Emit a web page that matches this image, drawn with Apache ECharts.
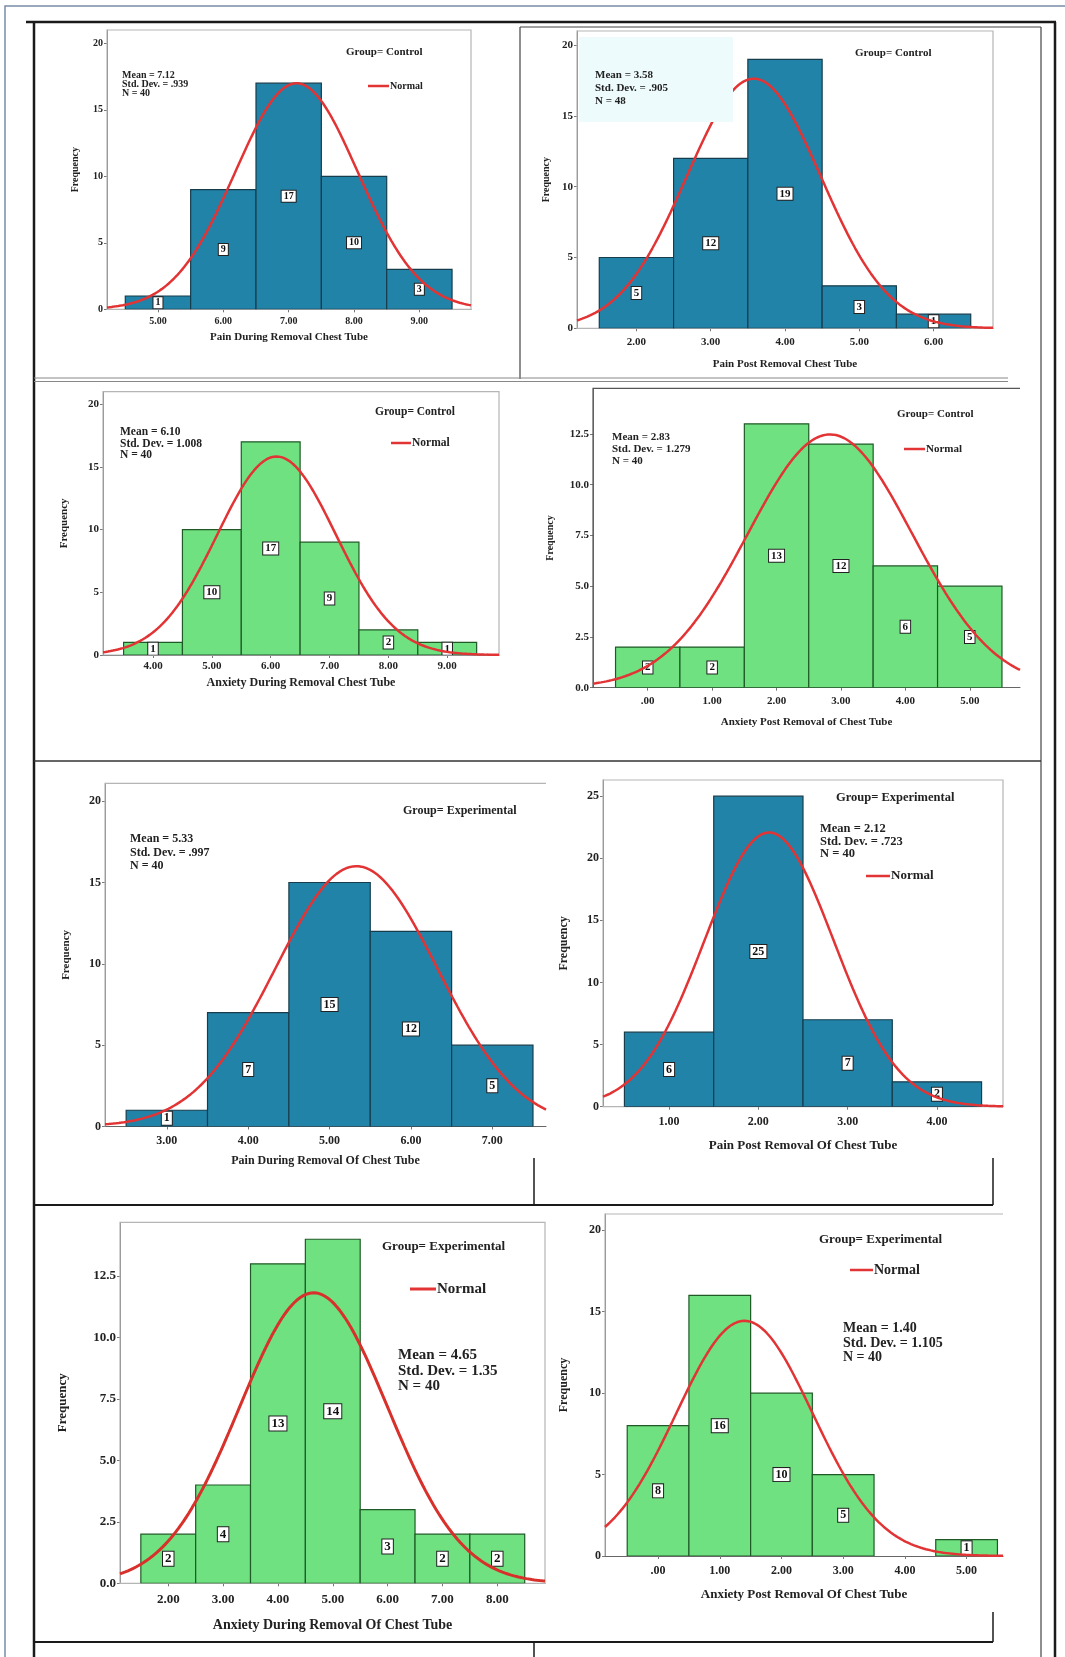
<!DOCTYPE html>
<html><head><meta charset="utf-8">
<script src="https://cdn.jsdelivr.net/npm/echarts@6/dist/echarts.min.js"></script>
<style>html,body{margin:0;padding:0;background:#fff}#c{width:1065px;height:1657px}</style>
</head><body><div id="c"></div>
<script>
// ---------------- DATA ----------------
const binCenters = [
  [5, 6, 7, 8, 9],
  [2, 3, 4, 5, 6],
  [4, 5, 6, 7, 8, 9],
  [0, 1, 2, 3, 4, 5],
  [3, 4, 5, 6, 7],
  [1, 2, 3, 4],
  [2, 3, 4, 5, 6, 7, 8],
  [0, 1, 2, 3, 4, 5]
];
const binCounts = [
  [1, 9, 17, 10, 3],
  [5, 12, 19, 3, 1],
  [1, 10, 17, 9, 2, 1],
  [2, 2, 13, 12, 6, 5],
  [1, 7, 15, 12, 5],
  [6, 25, 7, 2],
  [2, 4, 13, 14, 3, 2, 2],
  [8, 16, 10, 5, 0, 1]
];
const means = [7.12, 3.58, 6.10, 2.83, 5.33, 2.12, 4.65, 1.40];
const sds = [0.939, 0.905, 1.008, 1.279, 0.997, 0.723, 1.35, 1.105];
const meanText = ['7.12', '3.58', '6.10', '2.83', '5.33', '2.12', '4.65', '1.40'];
const sdText = ['.939', '.905', '1.008', '1.279', '.997', '.723', '1.35', '1.105'];
const nText = ['40', '48', '40', '40', '40', '40', '40', '40'];
const groups = ['Control', 'Control', 'Control', 'Control', 'Experimental', 'Experimental', 'Experimental', 'Experimental'];
const xTitles = [
  'Pain During Removal Chest Tube',
  'Pain Post Removal Chest Tube',
  'Anxiety During Removal Chest Tube',
  'Anxiety Post Removal of Chest Tube',
  'Pain During Removal Of Chest Tube',
  'Pain Post Removal Of Chest Tube',
  'Anxiety During Removal Of Chest Tube',
  'Anxiety Post Removal Of Chest Tube'
];
const xTicks = [
  [5, 6, 7, 8, 9],
  [2, 3, 4, 5, 6],
  [4, 5, 6, 7, 8, 9],
  [0, 1, 2, 3, 4, 5],
  [3, 4, 5, 6, 7],
  [1, 2, 3, 4],
  [2, 3, 4, 5, 6, 7, 8],
  [0, 1, 2, 3, 4, 5]
];
const yTicks = [
  [0, 5, 10, 15, 20],
  [0, 5, 10, 15, 20],
  [0, 5, 10, 15, 20],
  [0, 2.5, 5, 7.5, 10, 12.5],
  [0, 5, 10, 15, 20],
  [0, 5, 10, 15, 20, 25],
  [0, 2.5, 5, 7.5, 10, 12.5],
  [0, 5, 10, 15, 20]
];
const yDecimals = [0, 0, 0, 1, 0, 0, 1, 0];
const showLegend = [true, false, true, true, false, true, true, true];

// ---------------- LAYOUT / STYLE ----------------
const BLUE = '#2283a9', BLUE_E = '#173c4c';
const GREEN = '#6fe180', GREEN_E = '#1f5a26';
const RED = '#e23434';
const FONT = '"Liberation Serif", "DejaVu Serif", serif';
const fillCol = [BLUE, BLUE, GREEN, GREEN, BLUE, BLUE, GREEN, GREEN];
const edgeCol = [BLUE_E, BLUE_E, GREEN_E, GREEN_E, BLUE_E, BLUE_E, GREEN_E, GREEN_E];

const L = [
  {l:107,r:471,t:30,b:309.3, xmin:4.22,xmax:9.79,ymax:21, tf:10, lf:10, tm:7, xg:22, yg:27, nf:10, frame:'full',
   g:{x:346,y:52,fs:11}, s:{x:122,ys:[75,84,93],fs:10}, lg:{x1:368,x2:389,y:86,fs:10}},
  {l:577,r:993,t:31,b:328.3, xmin:1.2,xmax:6.8,ymax:21, tf:11, lf:11, tm:8, xg:30, yg:26, nf:10, frame:'full',
   g:{x:855,y:53,fs:11}, s:{x:595,ys:[75,88,101.5],fs:11}},
  {l:103,r:499,t:391.7,b:655, xmin:3.15,xmax:9.88,ymax:21, tf:11, lf:11, tm:6, xg:22, yg:33, nf:11, frame:'full',
   g:{x:375,y:412,fs:11.5}, s:{x:120,ys:[432,444,455.5],fs:11.5}, lg:{x1:391,x2:411,y:443,fs:11.5}},
  {l:593,r:1020,t:388.3,b:687.7, xmin:-0.85,xmax:5.78,ymax:14.75, tf:11, lf:11, tm:8, xg:29, yg:38, nf:10, frame:'open', fc:'#555',
   g:{x:897,y:414,fs:11}, s:{x:612,ys:[437,449,461],fs:11}, lg:{x1:904,x2:925,y:449,fs:11}},
  {l:105,r:546,t:783.3,b:1126.5, xmin:2.24,xmax:7.66,ymax:21.1, tf:12, lf:12, tm:8, xg:28, yg:33, nf:11, frame:'open',
   g:{x:403,y:811,fs:12}, s:{x:130,ys:[839,852.5,866],fs:12}},
  {l:603,r:1003,t:780,b:1106.7, xmin:0.26,xmax:4.74,ymax:26.3, tf:12, lf:12, tm:9, xg:32, yg:33, nf:12, frame:'full',
   g:{x:836,y:798,fs:12.5}, s:{x:820,ys:[829,841.5,854],fs:12.5}, lg:{x1:866,x2:890,y:876,fs:13}},
  {l:120,r:545,t:1222.3,b:1583.3, xmin:1.12,xmax:8.87,ymax:14.69, tf:13, lf:13, tm:10, xg:35, yg:51, nf:13, frame:'full',
   g:{x:382,y:1247,fs:13}, s:{x:398,ys:[1355,1371.5,1386],fs:15}, lg:{x1:410,x2:436,y:1289,fs:15}},
  {l:605,r:1003,t:1214,b:1556, xmin:-0.86,xmax:5.59,ymax:21, tf:12, lf:12, tm:9, xg:32, yg:35, nf:12, frame:'open',
   g:{x:819,y:1240,fs:13}, s:{x:843,ys:[1328,1343,1357],fs:14}, lg:{x1:850,x2:873,y:1270,fs:14}}
];

function f(sz, w) { return (w || 'bold') + ' ' + sz + 'px ' + FONT; }

const grid = [], xAxis = [], yAxis = [], series = [], graphic = [];

L.forEach((p, i) => {
  grid.push({left: p.l, top: p.t, width: p.r - p.l, height: p.b - p.t, containLabel: false});
  xAxis.push({
    type: 'value', gridIndex: i, min: p.xmin, max: p.xmax,
    name: xTitles[i], nameLocation: 'middle', nameGap: p.xg,
    nameTextStyle: {fontFamily: FONT, fontWeight: 'bold', fontSize: p.nf + 1, color: '#222'},
    axisLine: {show: true, onZero: false, lineStyle: {color: '#666', width: 1}},
    axisTick: {show: true, length: 3, customValues: xTicks[i], lineStyle: {color: '#777'}},
    axisLabel: {customValues: xTicks[i], margin: p.tm, fontFamily: FONT, fontWeight: 'bold', fontSize: p.tf, color: '#222',
      formatter: v => (Math.abs(v) < 1e-9 ? '.00' : Number(v).toFixed(2))},
    splitLine: {show: false}
  });
  yAxis.push({
    type: 'value', gridIndex: i, min: 0, max: p.ymax,
    name: 'Frequency', nameLocation: 'middle', nameGap: p.yg, nameRotate: 90,
    nameTextStyle: {fontFamily: FONT, fontWeight: 'bold', fontSize: p.nf, color: '#222'},
    axisLine: {show: true, onZero: false, lineStyle: {color: '#777', width: 1}},
    axisTick: {show: true, length: 3, customValues: yTicks[i], lineStyle: {color: '#777'}},
    axisLabel: {customValues: yTicks[i], margin: 4, fontFamily: FONT, fontWeight: 'bold', fontSize: p.lf, color: '#222',
      formatter: v => Number(v).toFixed(yDecimals[i])},
    splitLine: {show: false}
  });

  const hist = binCenters[i].map((c, k) => [c, binCounts[i][k]]);
  const lblSize = [10, 11, 11, 11, 12, 12, 13, 12][i];
  series.push({
    type: 'custom', xAxisIndex: i, yAxisIndex: i, z: 2, data: hist, clip: true,
    renderItem: (params, api) => {
      const c = api.value(0), n = api.value(1);
      if (!n) return {type: 'group', children: []};
      const tl = api.coord([c - 0.5, n]);
      const br = api.coord([c + 0.5, 0]);
      const mid = api.coord([c, n / 2]);
      return {type: 'group', children: [
        {type: 'rect', shape: {x: tl[0], y: tl[1], width: br[0] - tl[0], height: br[1] - tl[1]},
         style: {fill: fillCol[i], stroke: edgeCol[i], lineWidth: 1.2}},
        {type: 'text', x: mid[0], y: mid[1], z2: 5,
         style: {text: String(n), font: f(lblSize), fill: '#111', align: 'center', verticalAlign: 'middle',
           backgroundColor: '#fff', borderColor: '#222', borderWidth: 1, padding: [1, 2, 0, 2]}}
      ]};
    }
  });

  // Normal curve from the panel's stated mean / std. dev. and the total count (bin width 1)
  const total = binCounts[i].reduce((a, b) => a + b, 0);
  const pts = [];
  const steps = 160;
  for (let k = 0; k <= steps; k++) {
    const x = p.xmin + (p.xmax - p.xmin) * k / steps;
    const z = (x - means[i]) / sds[i];
    pts.push([x, total / (sds[i] * Math.sqrt(2 * Math.PI)) * Math.exp(-0.5 * z * z)]);
  }
  series.push({
    type: 'line', name: 'Normal', xAxisIndex: i, yAxisIndex: i, z: 3, data: pts, showSymbol: false, smooth: false,
    lineStyle: {color: i === 6 ? '#d8302a' : RED, width: i === 6 ? 3 : 2.5}, silent: true
  });

  // plot frame
  const fc = p.fc || '#b5b5b5';
  if (p.frame === 'full') {
    graphic.push({type: 'rect', z: 1, silent: true, shape: {x: p.l, y: p.t, width: p.r - p.l, height: p.b - p.t},
      style: {fill: 'none', stroke: fc, lineWidth: 1.2}});
  } else {
    graphic.push({type: 'polyline', z: 1, silent: true, shape: {points: [[p.l, p.b], [p.l, p.t], [p.r, p.t]]},
      style: {fill: 'none', stroke: fc, lineWidth: 1.2}});
  }

  // group label
  graphic.push({type: 'text', z: 20, x: p.g.x, y: p.g.y,
    style: {text: 'Group= ' + groups[i], font: f(p.g.fs), fill: '#222', verticalAlign: 'middle'}});
  // stats
  const lines = ['Mean = ' + meanText[i], 'Std. Dev. = ' + sdText[i], 'N = ' + nText[i]];
  lines.forEach((t, k) => graphic.push({type: 'text', z: 20, x: p.s.x, y: p.s.ys[k],
    style: {text: t, font: f(p.s.fs), fill: '#222', verticalAlign: 'middle'}}));
  // legend
  if (showLegend[i]) {
    graphic.push({type: 'line', z: 20, shape: {x1: p.lg.x1, y1: p.lg.y, x2: p.lg.x2, y2: p.lg.y},
      style: {stroke: RED, lineWidth: i === 6 ? 3 : 2.5}});
    graphic.push({type: 'text', z: 20, x: p.lg.x2 + 1, y: p.lg.y,
      style: {text: 'Normal', font: f(p.lg.fs), fill: '#222', verticalAlign: 'middle'}});
  }
});

// light box behind the stats of panel 2 (covers part of the curve, as in the source)
graphic.push({type: 'rect', z: 10, silent: true, shape: {x: 579, y: 37, width: 154, height: 85}, style: {fill: '#eefbfd'}});

// page / table borders
const ln = (x1, y1, x2, y2, c, w) => graphic.push({type: 'line', z: 30, silent: true,
  shape: {x1, y1, x2, y2}, style: {stroke: c, lineWidth: w}});
graphic.push({type: 'polyline', z: 30, silent: true, shape: {points: [[5, 1657], [5, 6], [1065, 6]]},
  style: {fill: 'none', stroke: '#7a8ca6', lineWidth: 1.5}});
ln(26, 22, 1056, 22, '#1a1a1a', 2.5);
ln(520, 27, 1041, 27, '#444', 1.2);
ln(34, 22, 34, 1657, '#1a1a1a', 2.5);
ln(1055, 22, 1055, 1657, '#1a1a1a', 2.5);
ln(1041, 27, 1041, 1657, '#444', 1.2);
ln(520, 27, 520, 379, '#444', 1.2);
ln(34, 378, 1008, 378, '#888', 1);
ln(34, 381.5, 1008, 381.5, '#888', 1);
ln(34, 761, 1041, 761, '#333', 1.5);
ln(34, 1205, 993, 1205, '#1a1a1a', 2);
ln(534, 1158, 534, 1205, '#1a1a1a', 1.5);
ln(993, 1158, 993, 1205, '#1a1a1a', 1.5);
ln(34, 1642, 993, 1642, '#1a1a1a', 2);
ln(993, 1612, 993, 1642, '#1a1a1a', 1.5);
ln(534, 1642, 534, 1657, '#1a1a1a', 1.5);

const chart = echarts.init(document.getElementById('c'), null, {renderer: 'canvas'});
chart.setOption({animation: false, backgroundColor: '#fff', grid, xAxis, yAxis, series, graphic});
</script>
</body></html>
